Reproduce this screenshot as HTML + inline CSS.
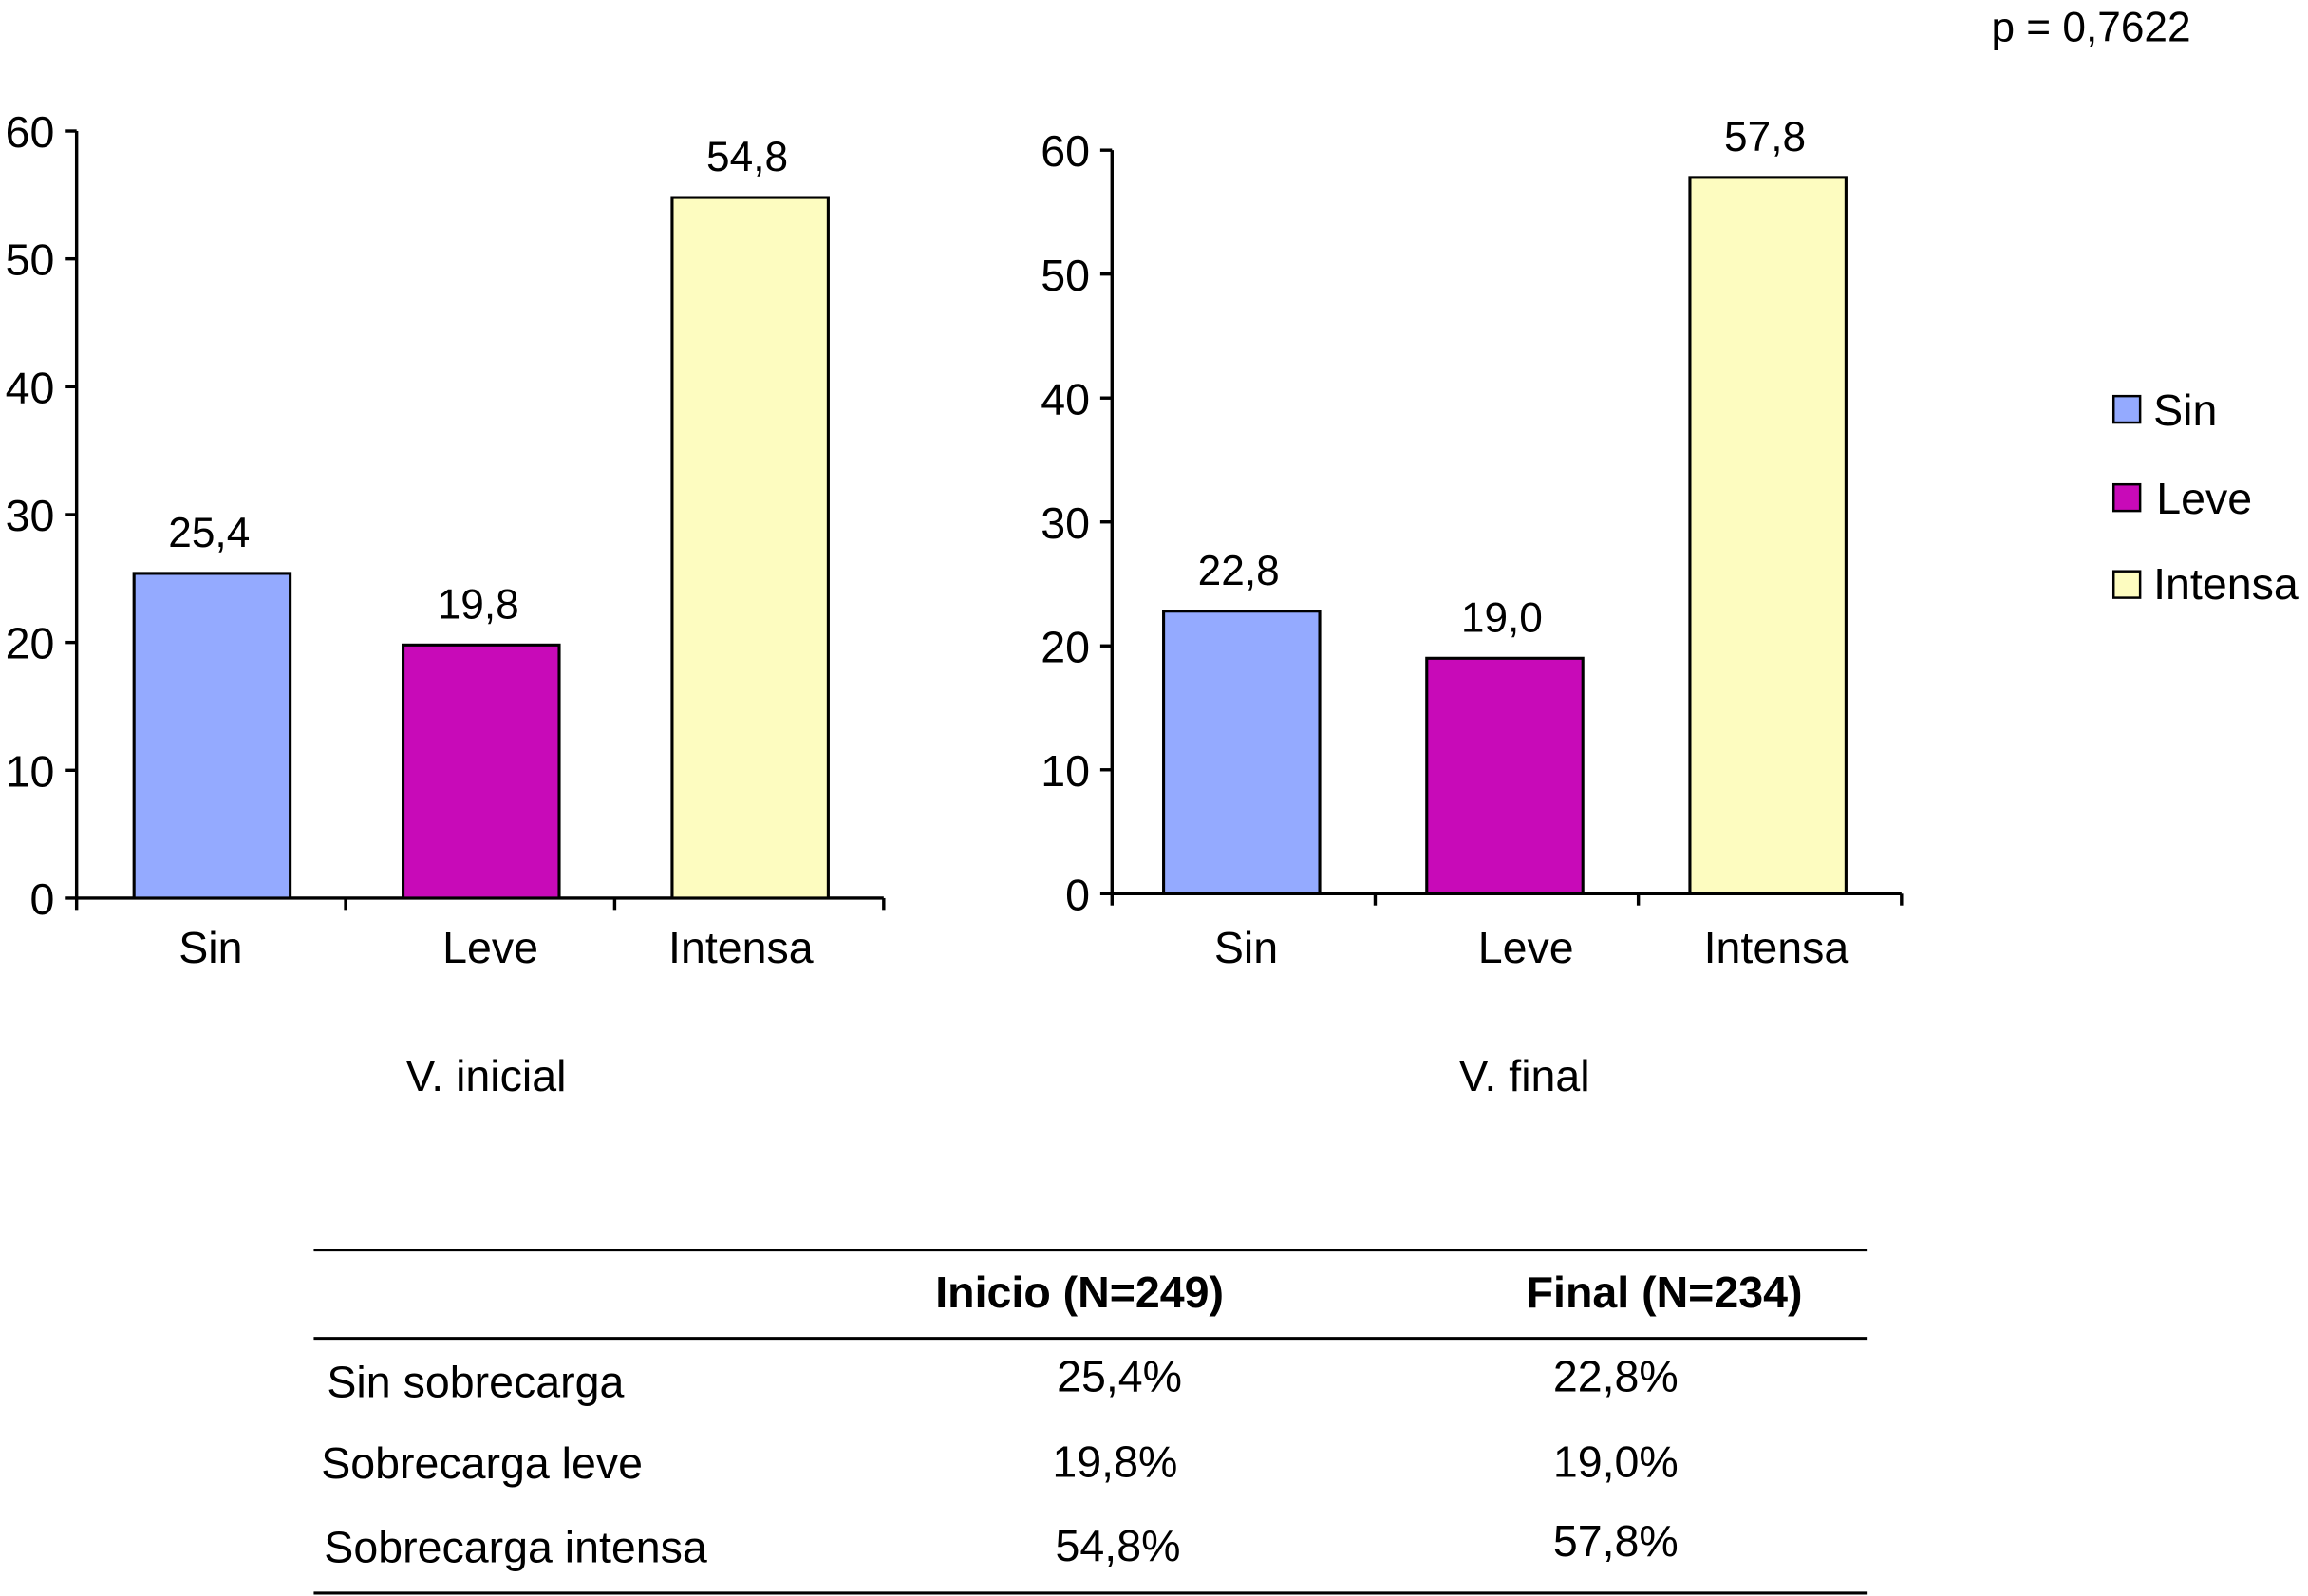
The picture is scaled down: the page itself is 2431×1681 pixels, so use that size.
<!DOCTYPE html>
<html><head><meta charset="utf-8"><style>
html,body{margin:0;padding:0;background:#fff;}
svg{display:block;font-family:"Liberation Sans",Arial,sans-serif;}
</style></head><body>
<svg id="root" width="2431" height="1681" viewBox="0 0 1567 1084" preserveAspectRatio="none" xmlns="http://www.w3.org/2000/svg">
<g id="charts"></g>
<text x="1352" y="28" font-size="28.5">p = 0,7622</text>
<text x="330" y="741" font-size="30" text-anchor="middle">V. inicial</text>
<text x="1035" y="741" font-size="30" text-anchor="middle">V. final</text>
<g font-size="30">
<rect x="1435" y="269" width="18" height="18" fill="#94aaff" stroke="#000" stroke-width="1.6"/>
<text x="1462" y="289">Sin</text>
<rect x="1435" y="329" width="18" height="18" fill="#c80ab8" stroke="#000" stroke-width="1.6"/>
<text x="1464" y="349">Leve</text>
<rect x="1435" y="388" width="18" height="18" fill="#fdfcc0" stroke="#000" stroke-width="1.6"/>
<text x="1462" y="407">Intensa</text>
</g>
<g font-size="30">
<line x1="213" y1="849" x2="1268" y2="849" stroke="#000" stroke-width="2"/>
<line x1="213" y1="909" x2="1268" y2="909" stroke="#000" stroke-width="2"/>
<line x1="213" y1="1082" x2="1268" y2="1082" stroke="#000" stroke-width="2"/>
<text x="733" y="888" font-weight="bold" text-anchor="middle">Inicio (N=249)</text>
<text x="1130" y="888" font-weight="bold" text-anchor="middle">Final (N=234)</text>
<text x="222" y="949">Sin sobrecarga</text>
<text x="218" y="1004">Sobrecarga leve</text>
<text x="220" y="1061">Sobrecarga intensa</text>
<text x="760" y="945" text-anchor="middle">25,4%</text>
<text x="757" y="1003" text-anchor="middle">19,8%</text>
<text x="759" y="1060" text-anchor="middle">54,8%</text>
<text x="1097" y="945" text-anchor="middle">22,8%</text>
<text x="1097" y="1003" text-anchor="middle">19,0%</text>
<text x="1097" y="1057" text-anchor="middle">57,8%</text>
</g>
</svg>
<script>
const categories = ["Sin", "Leve", "Intensa"];
const valuesInicial = [25.4, 19.8, 54.8];
const valuesFinal = [22.8, 19.0, 57.8];
const labelsInicial = ["25,4", "19,8", "54,8"];
const labelsFinal = ["22,8", "19,0", "57,8"];
const yTicks = [0, 10, 20, 30, 40, 50, 60];
const colors = ["#94aaff", "#c80ab8", "#fdfcc0"];

const NS = "http://www.w3.org/2000/svg";
const root = document.getElementById("charts");
function mk(tag, attrs, parent){
  const e = document.createElementNS(NS, tag);
  for (const k in attrs) e.setAttribute(k, attrs[k]);
  parent.appendChild(e);
  return e;
}
function drawChart(cfg, values, labels, name){
  const g = mk("g", {}, root);
  
  
  const y = v => cfg.y0 - (v / 60) * (cfg.y0 - cfg.y60);
  const slot = (cfg.xEnd - cfg.ax) / categories.length;
  const x = i => cfg.ax + slot * i + cfg.barOff;
  const ya = mk("line", {x1: cfg.ax, y1: y(60), x2: cfg.ax, y2: y(0), stroke: "#000", "stroke-width": 2.2}, g);
  
  
  yTicks.forEach(t => {
    const tk = mk("line", {x1: cfg.ax - 8, y1: y(t), x2: cfg.ax, y2: y(t), stroke: "#000", "stroke-width": 2.2}, g);
    
    
    const tl = mk("text", {x: cfg.ax - 15, y: y(t) + 11, "font-size": 30, "text-anchor": "end"}, g);
    tl.textContent = String(t);
    
    
  });
  const xa = mk("line", {x1: cfg.ax, y1: y(0), x2: cfg.xEnd, y2: y(0), stroke: "#000", "stroke-width": 2.2}, g);
  
  
  for (let i = 0; i <= categories.length; i++) {
    const tx = cfg.ax + slot * i;
    const tk = mk("line", {x1: tx, y1: y(0), x2: tx, y2: y(0) + 8, stroke: "#000", "stroke-width": 2.2}, g);
    
    
  }
  categories.forEach((c, i) => {
    const top = y(values[i]);
    const b = mk("rect", {x: x(i), y: top, width: cfg.bw, height: y(0) - top, fill: colors[i], stroke: "#000", "stroke-width": 2}, g);
    
    
    const vl = mk("text", {x: x(i) + cfg.bw / 2 - 2, y: top - 18, "font-size": 28.5, "text-anchor": "middle"}, g);
    vl.textContent = labels[i];
    
    
    const cl = mk("text", {x: cfg.catX[i], y: y(0) + 44 + cfg.catDy, "font-size": 30, "text-anchor": "middle"}, g);
    cl.textContent = c;
    
    
  });
}
drawChart({ax: 52, xEnd: 600, y0: 610, y60: 89, bw: 106, barOff: 39, catX: [143, 333, 503], catDy: 0}, valuesInicial, labelsInicial, "chart-v-inicial");
drawChart({ax: 755, xEnd: 1291, y0: 607, y60: 102, bw: 106, barOff: 35, catX: [846, 1036, 1206], catDy: 3}, valuesFinal, labelsFinal, "chart-v-final");
</script>
</body></html>
